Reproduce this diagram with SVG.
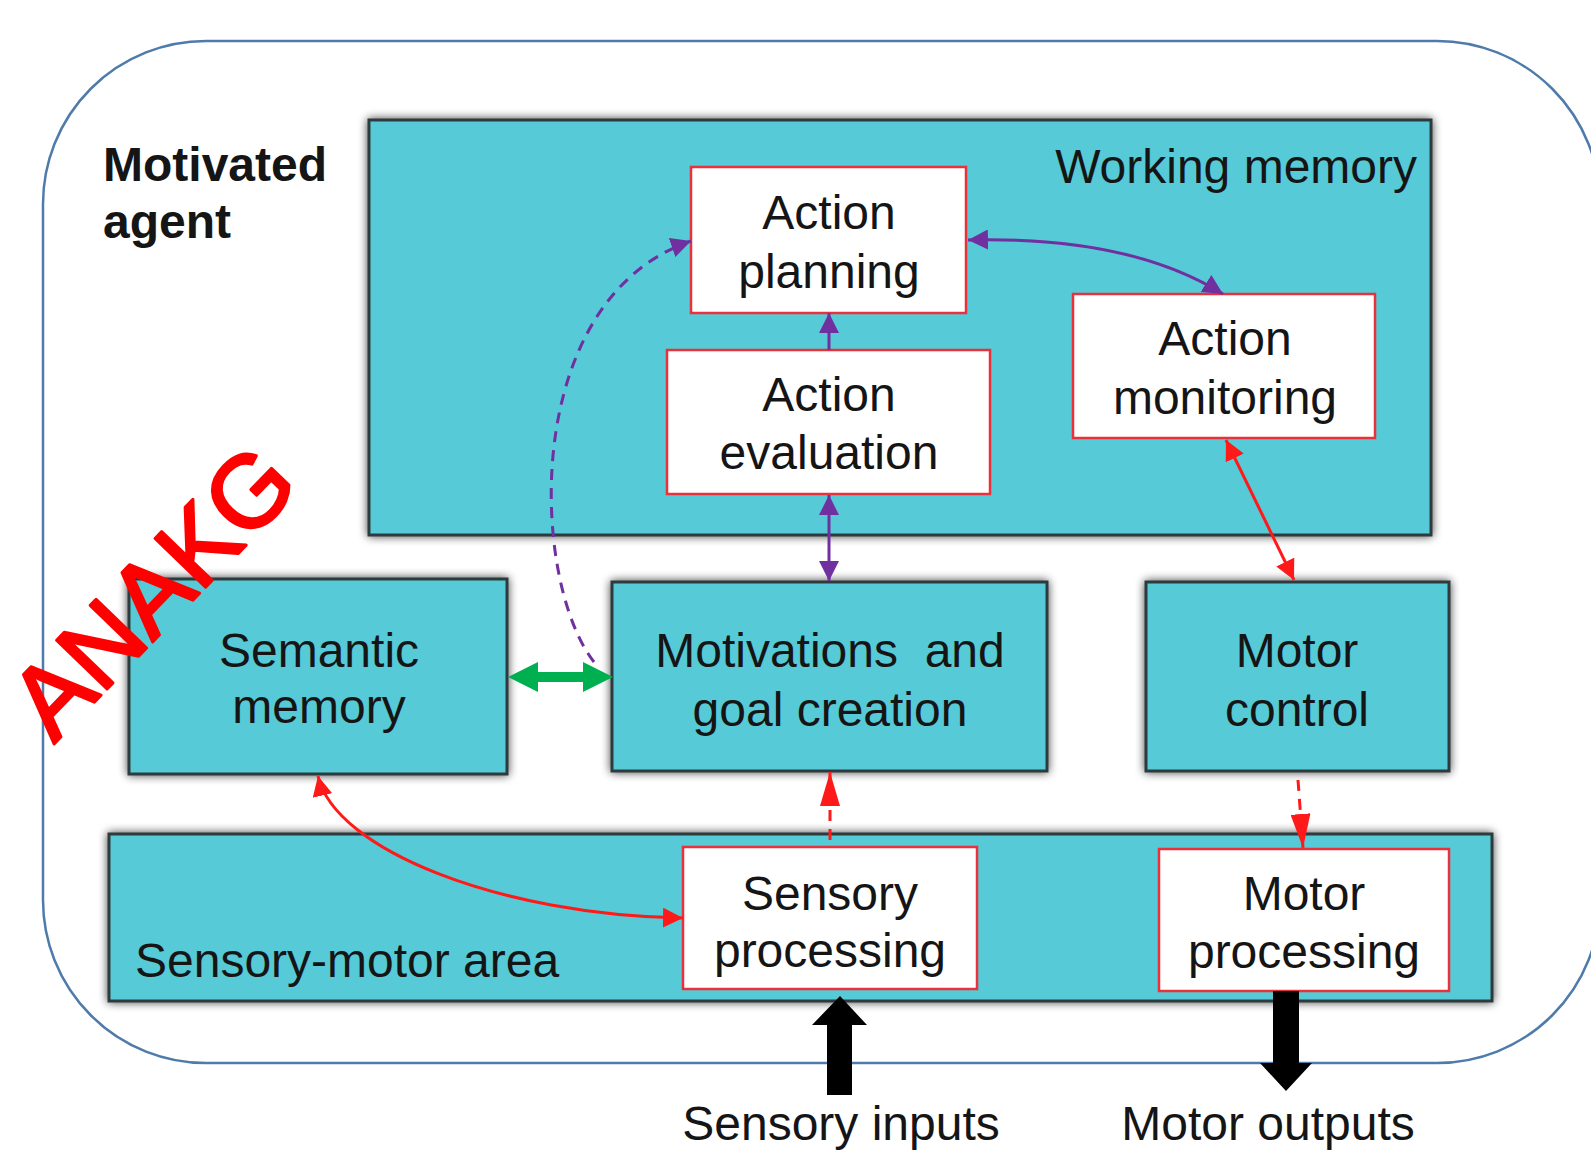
<svg xmlns="http://www.w3.org/2000/svg" width="1591" height="1153" viewBox="0 0 1591 1153">
<style>
.t{font-family:"Liberation Sans",Arial,sans-serif;font-size:48px;fill:#151515;text-anchor:middle}
.tl{font-family:"Liberation Sans",Arial,sans-serif;font-size:48px;fill:#151515}
.b{font-weight:bold}
.area{fill:#57CAD6;stroke:#2e3a3c;stroke-width:3}
.wbox{fill:#ffffff;stroke:#e8313a;stroke-width:2.5}
.pur{fill:none;stroke:#7030A0;stroke-width:3}
.red{fill:none;stroke:#ff1a1a;stroke-width:3}
.dash{stroke-dasharray:11 8}
</style>
<defs>
<filter id="sh" x="-10%" y="-10%" width="120%" height="120%">
<feGaussianBlur in="SourceAlpha" stdDeviation="5"/>
<feComponentTransfer><feFuncA type="linear" slope="0.75"/></feComponentTransfer>
<feMerge><feMergeNode/><feMergeNode in="SourceGraphic"/></feMerge>
</filter>
<marker id="ap" viewBox="0 0 20 20" refX="20" refY="10" markerWidth="20" markerHeight="20" markerUnits="userSpaceOnUse" orient="auto-start-reverse">
<path d="M0,0 L20,10 L0,20 z" fill="#7030A0"/>
</marker>
<marker id="ar" viewBox="0 0 20 20" refX="20" refY="10" markerWidth="20" markerHeight="20" markerUnits="userSpaceOnUse" orient="auto-start-reverse">
<path d="M0,0 L20,10 L0,20 z" fill="#ff1a1a"/>
</marker>
<marker id="ar2" viewBox="0 0 34 20" refX="34" refY="10" markerWidth="34" markerHeight="20" markerUnits="userSpaceOnUse" orient="auto-start-reverse">
<path d="M0,0 L34,10 L0,20 z" fill="#ff1a1a"/>
</marker>
</defs>
<rect width="1591" height="1153" fill="#ffffff"/>

<g id="motivated-agent">
<rect x="43" y="41" width="1557" height="1022" rx="163" ry="163" fill="none" stroke="#4f7bab" stroke-width="2.5"/>
<text class="tl b" x="103" y="181">Motivated</text>
<text class="tl b" x="103" y="238">agent</text>
</g>

<g id="working-memory">
<rect class="area" x="369" y="120" width="1062" height="415" filter="url(#sh)"/>
<text class="t" style="text-anchor:end" x="1417" y="183">Working memory</text>
</g>

<g id="sensory-motor-area">
<rect class="area" x="109" y="834" width="1383" height="167" filter="url(#sh)"/>
<text class="tl" x="135" y="977">Sensory-motor area</text>
</g>

<g id="action-planning">
<rect class="wbox" x="691" y="167" width="275" height="146"/>
<text class="t" x="829" y="229">Action</text>
<text class="t" x="829" y="288">planning</text>
</g>

<g id="action-evaluation">
<rect class="wbox" x="667" y="350" width="323" height="144"/>
<text class="t" x="829" y="411">Action</text>
<text class="t" x="829" y="469">evaluation</text>
</g>

<g id="action-monitoring">
<rect class="wbox" x="1073" y="294" width="302" height="144"/>
<text class="t" x="1225" y="355">Action</text>
<text class="t" x="1225" y="414">monitoring</text>
</g>

<g id="semantic-memory">
<rect class="area" x="129" y="579" width="378" height="195" filter="url(#sh)"/>
<text class="t" x="319" y="667">Semantic</text>
<text class="t" x="319" y="723">memory</text>
</g>

<g id="motivations">
<rect class="area" x="612" y="582" width="435" height="189" filter="url(#sh)"/>
<text class="t" x="830" y="667" xml:space="preserve">Motivations  and</text>
<text class="t" x="830" y="726">goal creation</text>
</g>

<g id="motor-control">
<rect class="area" x="1146" y="582" width="303" height="189" filter="url(#sh)"/>
<text class="t" x="1297" y="667">Motor</text>
<text class="t" x="1297" y="726">control</text>
</g>

<g id="sensory-processing">
<rect class="wbox" x="683" y="847" width="294" height="142"/>
<text class="t" x="830" y="910">Sensory</text>
<text class="t" x="830" y="967">processing</text>
</g>

<g id="motor-processing">
<rect class="wbox" x="1159" y="849" width="290" height="142"/>
<text class="t" x="1304" y="910">Motor</text>
<text class="t" x="1304" y="968">processing</text>
</g>

<g id="connectors">
<path class="pur" d="M829,350 L829,313" marker-end="url(#ap)"/>
<path class="pur" d="M829,495 L829,581" marker-start="url(#ap)" marker-end="url(#ap)"/>
<path class="pur" d="M968,240 Q1130,236 1223,294" marker-start="url(#ap)" marker-end="url(#ap)"/>
<path class="pur dash" d="M594,662 C530,580 520,300 691,241" marker-end="url(#ap)"/>
<polygon fill="#00B050" points="508,677 538,662 538,672 583,672 583,662 613,677 583,692 583,682 538,682 538,692"/>
<path class="red" d="M1226,440 L1294,580" marker-start="url(#ar)" marker-end="url(#ar)"/>
<path class="red" d="M318,776 C335,850 500,915 683,918" marker-start="url(#ar)" marker-end="url(#ar)"/>
<path class="red dash" d="M830,840 L830,772" marker-end="url(#ar2)"/>
<path class="red dash" d="M1298,780 L1303,848" marker-end="url(#ar2)"/>
<polygon fill="#000" points="840,996 867,1025 852,1025 852,1095 827,1095 827,1025 812,1025"/>
<polygon fill="#000" points="1273,991 1299,991 1299,1063 1312,1063 1286,1091 1260,1063 1273,1063"/>
</g>

<g id="io-labels">
<text class="t" x="841" y="1140">Sensory inputs</text>
<text class="t" x="1268" y="1140">Motor outputs</text>
</g>

<g id="watermark">
<text transform="translate(54,744) rotate(-46)" x="0" y="0" style="font-family:'Liberation Sans',Arial,sans-serif;font-size:102px;fill:#ff0000;stroke:#ff0000;stroke-width:3;stroke-linejoin:round">ANAKG</text>
</g>
</svg>
